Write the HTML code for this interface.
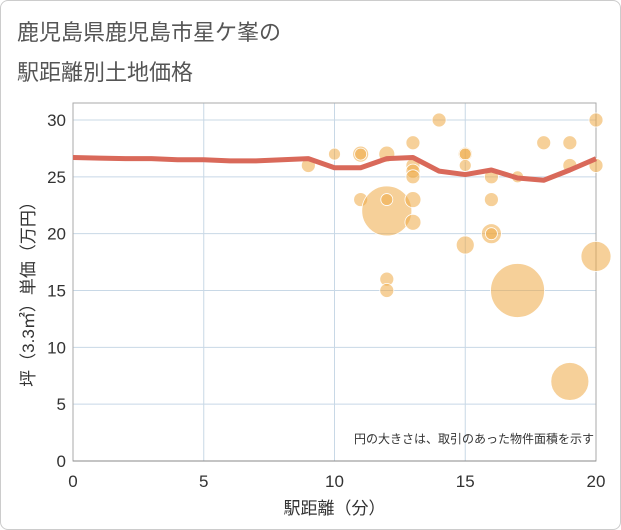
<!DOCTYPE html>
<html><head><meta charset="utf-8"><style>
body{margin:0;background:#fff;font-family:"Liberation Sans","Noto Sans CJK JP",sans-serif;}
#wrap{position:relative;width:619px;height:528px;border:1px solid #ccc;border-radius:8px;overflow:hidden;background:#fff}
.title{position:absolute;left:16px;font-size:22px;color:#555;}
</style></head><body>
<div id="wrap">
<div class="title" style="top:14px">鹿児島県鹿児島市星ケ峯の</div>
<div class="title" style="top:54px">駅距離別土地価格</div>
<svg id="chart" width="621" height="530" style="position:absolute;left:-1px;top:-1px"></svg>
</div>
<script>
const NS='http://www.w3.org/2000/svg';
const bubX=[9,10,11,11,11,12,12,12,12,12,13,13,13,13,13,13,14,15,15,15,15,16,16,16,16,17,17,18,19,19,19,20,20,20];
const bubY=[26,27,27,27,23,27,22,23,16,15,28,26,25.5,25,23,21,30,27,27,26,19,25,23,20,20,25,15,28,28,26,7,30,26,18];
const bubR=[7,6,8,6,7,8,25,6,7,7,7,7,7,7,8,8,7,7,6,6,9,7,7,10,6,6,27,7,7,7,19,7,7,15];
const lineX=[0,1,2,3,4,5,6,7,8,9,10,11,12,13,14,15,16,17,18,19,20];
const lineY=[26.7,26.65,26.6,26.6,26.5,26.5,26.4,26.4,26.5,26.6,25.8,25.8,26.6,26.7,25.5,25.2,25.6,24.9,24.7,25.6,26.6];
const xTicks=[0,5,10,15,20];
const yTicks=[0,5,10,15,20,25,30];
const X0=73,X1=596,Y0=461,Y1=120;
const sx=v=>X0+(X1-X0)*v/20, sy=v=>Y0-(Y0-Y1)*v/30;
const svg=document.getElementById('chart');
function mk(t,a,txt){const e=document.createElementNS(NS,t);for(const k in a)e.setAttribute(k,a[k]);if(txt!=null)e.textContent=txt;svg.appendChild(e);return e;}
for(const t of xTicks){const l=mk('line',{x1:sx(t),x2:sx(t),y1:103,y2:Y0,stroke:'#c8d8e6','stroke-width':1});

const tx=mk('text',{x:sx(t),y:487,'text-anchor':'middle','font-size':17,fill:'#333'},t);
}
for(const t of yTicks){const l=mk('line',{x1:X0,x2:X1,y1:sy(t),y2:sy(t),stroke:'#c8d8e6','stroke-width':1});

const tx=mk('text',{x:66,y:sy(t)+6,'text-anchor':'end','font-size':17,fill:'#333'},t);
}
const fr=mk('rect',{x:X0,y:103,width:X1-X0,height:Y0-103,fill:'none',stroke:'#aaa','stroke-width':1});

const ax=mk('line',{x1:X0,x2:X1,y1:Y0,y2:Y0,stroke:'#888','stroke-width':1});

for(let i=0;i<bubX.length;i++){const c=mk('circle',{cx:sx(bubX[i]),cy:sy(bubY[i]),r:bubR[i],fill:'rgba(238,170,70,0.55)',stroke:'#fff','stroke-width':0.8});
}
const p=mk('polyline',{points:lineX.map((x,i)=>sx(x)+','+sy(lineY[i])).join(' '),fill:'none',stroke:'#d9695a','stroke-width':5,'stroke-linejoin':'round'});

const n=mk('text',{x:594,y:443,'text-anchor':'end','font-size':12,fill:'#333'},'円の大きさは、取引のあった物件面積を示す');

const xt=mk('text',{x:sx(10),y:514,'text-anchor':'middle','font-size':17,fill:'#333'},'駅距離（分）');

const yt=mk('text',{x:0,y:0,'text-anchor':'middle','font-size':17,fill:'#333',transform:'translate(34,290) rotate(-90)'},'坪（3.3㎡）単価（万円）');

</script>
</body></html>
